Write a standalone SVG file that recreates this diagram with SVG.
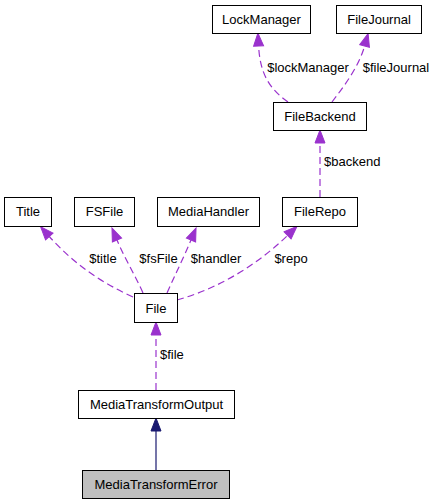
<svg xmlns="http://www.w3.org/2000/svg" width="435" height="504" viewBox="0 0 435 504">
<style>
text{font-family:"Liberation Sans",Arial,Helvetica,sans-serif;font-size:13px;fill:#000}
.n rect{fill:#fff;stroke:#000;stroke-width:1}
.n text{text-anchor:middle}
.e{fill:none;stroke:#9a32cd;stroke-width:1.2;stroke-dasharray:7,4}
.lbl{text-anchor:middle}
</style>
<defs>
<marker id="ap" markerUnits="userSpaceOnUse" markerWidth="14" markerHeight="12" refX="0" refY="5" orient="auto" overflow="visible">
<path d="M0,0 L13,5 L0,10 z" fill="#9a32cd" stroke="#9a32cd" stroke-width="1"/>
</marker>
<marker id="ab" markerUnits="userSpaceOnUse" markerWidth="14" markerHeight="12" refX="0" refY="5" orient="auto" overflow="visible">
<path d="M0,0 L13,5 L0,10 z" fill="#191970" stroke="#191970" stroke-width="1"/>
</marker>
</defs>
<g id="edges">
<path class="e" d="M156,390 L156,335" marker-end="url(#ap)"/>
<path d="M156,470 L156,431" fill="none" stroke="#191970" stroke-width="1.2" marker-end="url(#ab)"/>
<path class="e" d="M133,297 C100,282 73,263 49.3,236.5" marker-end="url(#ap)"/>
<path class="e" d="M143,293 C135,275 125,259 117,240" marker-end="url(#ap)"/>
<path class="e" d="M167,293 C175,275 183,259 191,240" marker-end="url(#ap)"/>
<path class="e" d="M177,300 C220,288 258,264 287.6,235.4" marker-end="url(#ap)"/>
<path class="e" d="M320,197 L320,143" marker-end="url(#ap)"/>
<path class="e" d="M288,102 C268,88 260,72 258.6,46" marker-end="url(#ap)"/>
<path class="e" d="M332,102 C345,85 359,66 364.6,46" marker-end="url(#ap)"/>
<text class="lbl" x="308" y="71.5">$lockManager</text>
<text class="lbl" x="396" y="71.5">$fileJournal</text>
<text x="324" y="166">$backend</text>
<text class="lbl" x="103" y="263">$title</text>
<text class="lbl" x="158.5" y="263">$fsFile</text>
<text class="lbl" x="216" y="263">$handler</text>
<text class="lbl" x="291" y="263">$repo</text>
<text x="160" y="359">$file</text>
</g>
<g id="LockManager" class="n"><rect x="212.5" y="5.5" width="98" height="28"/><text x="261.5" y="24">LockManager</text></g>
<g id="FileJournal" class="n"><rect x="336.5" y="5.5" width="85" height="28"/><text x="379" y="24">FileJournal</text></g>
<g id="FileBackend" class="n"><rect x="273.5" y="102.5" width="93" height="28"/><text x="320" y="121">FileBackend</text></g>
<g id="Title" class="n"><rect x="4.5" y="197.5" width="47" height="29"/><text x="28" y="216">Title</text></g>
<g id="FSFile" class="n"><rect x="74.5" y="197.5" width="60" height="29"/><text x="104.5" y="216">FSFile</text></g>
<g id="MediaHandler" class="n"><rect x="157.5" y="197.5" width="102" height="29"/><text x="208.5" y="216">MediaHandler</text></g>
<g id="FileRepo" class="n"><rect x="282.5" y="197.5" width="75" height="29"/><text x="320" y="216">FileRepo</text></g>
<g id="File" class="n"><rect x="134.5" y="293.5" width="43" height="29"/><text x="156" y="312.5">File</text></g>
<g id="MediaTransformOutput" class="n"><rect x="78.5" y="390.5" width="156" height="28"/><text x="156.5" y="408.5">MediaTransformOutput</text></g>
<g id="MediaTransformError" class="n"><rect x="82.5" y="470.5" width="147" height="28" style="fill:#bfbfbf"/><text x="156" y="488.5">MediaTransformError</text></g>
</svg>
